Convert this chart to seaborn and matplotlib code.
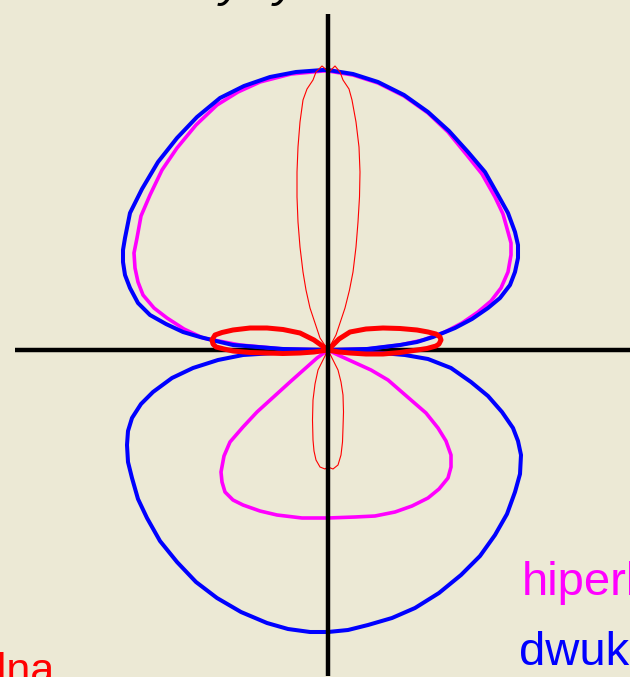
import matplotlib
matplotlib.use("Agg")
import matplotlib.pyplot as plt
import seaborn as sns
import pandas as pd

# Polar response patterns, given as (x, y) outline points around the origin.
# Upper and lower lobes are listed separately; each closes at the origin.
blue_upper_x = [0, -45, -95, -112, -128, -145, -162, -178, -190, -198, -203, -205, -205, -203,
                -198, -186, -170, -151, -131, -108, -84, -58, -32, -5,
                0, 25, 50, 76, 100, 121, 140, 157, 170, 180, 187, 190, 190, 187, 182,
                172, 160, 144, 127, 105, 89, 72, 39, 0]
blue_upper_y = [0, 1, 5, 9, 13, 18, 26, 35, 47, 62, 75, 88, 100, 112,
                137, 161, 188, 212, 233, 252, 264, 273, 278, 280,
                280, 276, 268, 255, 238, 219, 198, 178, 155, 137, 118, 105, 92, 78, 65,
                52, 42, 31, 22, 13, 8, 5, 1, 0]
blue_lower_x = [0, -38, -85, -110, -135, -156, -175, -187, -196, -200, -201, -200, -196, -190,
                -181, -168, -151, -132, -111, -87, -61, -40, -18,
                0, 20, 40, 64, 87, 111, 133, 152, 167, 179, 187, 192, 193, 190, 185,
                174, 160, 143, 123, 100, 77, 42, 0]
blue_lower_y = [0, -2, -5, -10, -18, -28, -42, -54, -68, -81, -95, -112, -128, -149,
                -168, -191, -212, -232, -248, -262, -273, -279, -282,
                -282, -280, -275, -268, -258, -243, -225, -206, -185, -164, -142, -124, -105, -91, -78,
                -62, -46, -32, -18, -9, -5, -2, 0]

magenta_upper_x = [0, -45, -88, -125, -144, -161, -174, -185, -190, -193, -194, -191, -187,
                   -178, -166, -151, -132, -111, -90, -68, -37, -5,
                   0, 25, 50, 76, 100, 120, 138, 154, 167, 175, 180, 183, 183, 180, 173,
                   163, 150, 134, 117, 95, 72, 39, 0]
magenta_upper_y = [0, 1, 5, 12, 21, 32, 42, 55, 68, 82, 97, 112, 134,
                   155, 180, 202, 225, 245, 258, 268, 276, 279,
                   279, 275, 267, 254, 237, 218, 196, 176, 153, 136, 118, 107, 95, 78, 62,
                   49, 38, 27, 18, 10, 5, 1, 0]
magenta_lower_x = [0, -11, -38, -71, -85, -98, -104, -107, -106, -103, -95, -85, -68, -51, -26,
                   0, 27, 47, 67, 84, 100, 111, 120, 123, 123, 118, 110, 98, 83, 60, 43, 10, 0]
magenta_lower_y = [0, -8, -32, -62, -77, -92, -106, -122, -132, -142, -150, -155, -161, -165, -168,
                   -168, -167, -166, -162, -156, -148, -139, -128, -117, -105, -91, -78, -63, -50,
                   -30, -20, -5, 0]

red_narrow_upper_x = [0, -8, -18, -22, -25, -28, -30, -31, -31, -30, -28, -25, -21, -15, -12, -6, 1,
                      7, 12, 15, 21, 24, 28, 31, 32, 31.5, 30, 28, 25, 21.5, 17, 8, 0]
red_narrow_upper_y = [0, 12, 42, 60, 78, 103, 128, 153, 178, 203, 228, 250, 261, 270, 278, 284, 278,
                      284, 278, 270, 261, 250, 228, 203, 178, 153, 128, 103, 78, 60, 42, 15, 0]
red_narrow_lower_x = [0, -10, -13, -15, -15.5, -15, -14, -12, -8, -3, 0, 5, 10, 13, 14.5, 15,
                      15.5, 15, 13, 10, 0]
red_narrow_lower_y = [0, -20, -34, -50, -70, -90, -101, -110, -117, -119, -117, -119, -115, -105,
                      -92, -78, -62, -45, -32, -20, 0]

red_side_left_x = [0, -14, -28, -45, -61, -78, -95, -106, -113, -116, -115, -112, -104, -95,
                   -78, -61, -45, -28, -14, 0]
red_side_left_y = [0, 10, 17, 20.5, 22, 22, 20, 17.5, 15, 10, 6, 3, 1, -1,
                   -2.5, -3, -3.5, -3, -2, 0]
red_side_right_x = [0, 11, 22, 38, 55, 72, 89, 100, 108, 112, 113, 111, 108, 99,
                    89, 72, 55, 38, 22, 11, 0]
red_side_right_y = [0, 11, 18, 21, 22, 21.5, 20, 18, 16, 13, 10, 6, 4, 1.5,
                    0, -2.5, -4, -4, -3, -2, 0]

# Axis extents
axis_h = [-313, 302]
axis_v = [-326, 336]

labels = ["superkardioidalna", "hiperkardioidalna", "dwukierunkowa"]

BG = "#ECE9D5"
BLUE = "#0000FF"
MAGENTA = "#FF00FF"
RED = "#FF0000"
LABEL_SIZE = 34

sns.set_theme(style="white")
plt.rcParams["font.family"] = ["Liberation Sans", "DejaVu Sans"]

fig = plt.figure(figsize=(6.3, 6.77), dpi=100, facecolor=BG)
ax = fig.add_axes([0, 0, 1, 1])
ax.set_facecolor(BG)
ax.set_axis_off()

# Coordinate axes
ax.plot(axis_h, [0, 0], color="black", lw=3.2, zorder=1, solid_capstyle="butt")
ax.plot([0, 0], axis_v, color="black", lw=3.2, zorder=6, solid_capstyle="butt")


def curve(xs, ys, color, lw, z):
    df = pd.DataFrame({"x": xs, "y": ys})
    sns.lineplot(data=df, x="x", y="y", sort=False, estimator=None, color=color,
                 lw=lw, ax=ax, zorder=z, solid_joinstyle="round", solid_capstyle="round")


curve(magenta_upper_x, magenta_upper_y, MAGENTA, 2.6, 2)
curve(magenta_lower_x, magenta_lower_y, MAGENTA, 2.6, 2)
curve(blue_upper_x, blue_upper_y, BLUE, 2.9, 3)
curve(blue_lower_x, blue_lower_y, BLUE, 2.9, 3)
curve(red_narrow_upper_x, red_narrow_upper_y, RED, 0.8, 4)
curve(red_narrow_lower_x, red_narrow_lower_y, RED, 0.8, 4)
curve(red_side_left_x, red_side_left_y, RED, 3.6, 5)
curve(red_side_right_x, red_side_right_y, RED, 3.6, 5)

ax.set_xlim(-328, 302)
ax.set_ylim(-327, 350)
ax.set_xlabel("")
ax.set_ylabel("")

# Pattern names
ax.text(-273, -333, labels[0], color=RED, fontsize=31, ha="right", va="baseline", clip_on=False)
ax.text(194, -245, labels[1], color=MAGENTA, fontsize=LABEL_SIZE, ha="left", va="baseline", clip_on=False)
ax.text(191, -315, labels[2], color=BLUE, fontsize=LABEL_SIZE, ha="left", va="baseline", clip_on=False)

# Heading line above the diagram
ax.text(-323, 354, ")", color="black", fontsize=LABEL_SIZE, ha="right", va="baseline", clip_on=False)
ax.text(-108, 354, "y", color="black", fontsize=LABEL_SIZE, style="italic", ha="left", va="baseline", clip_on=False)
ax.text(-54, 354, "y", color="black", fontsize=LABEL_SIZE, style="italic", ha="left", va="baseline", clip_on=False)

fig.savefig("out.png", dpi=100, facecolor=BG)
